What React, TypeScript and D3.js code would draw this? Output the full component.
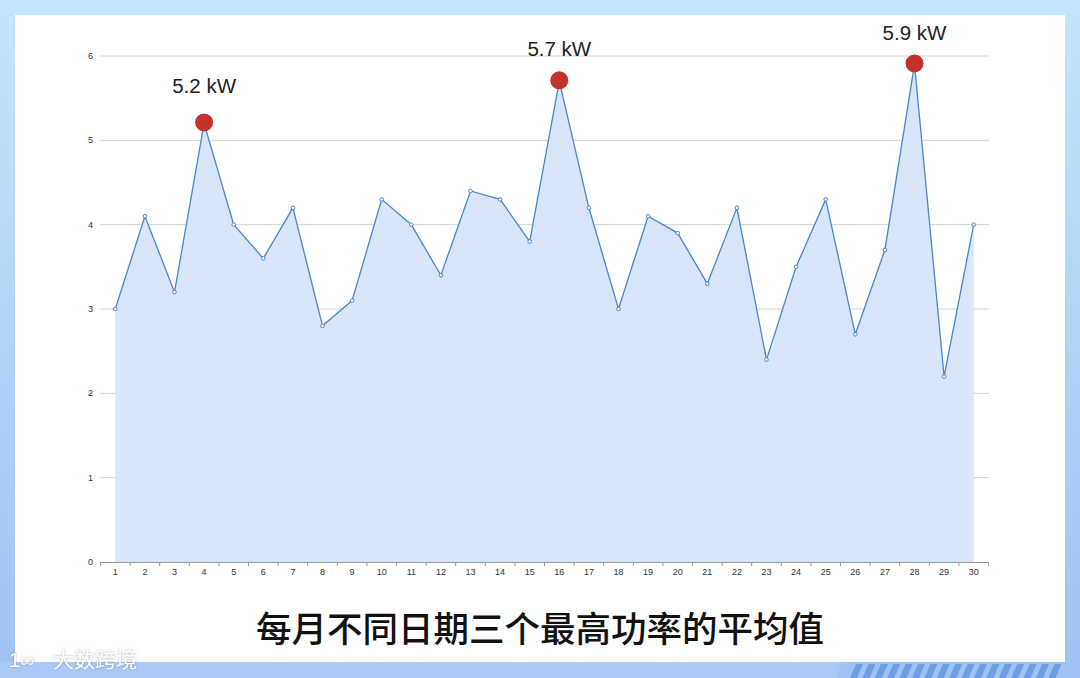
import React from "react";
import * as d3 from "d3";

const days: string[] = Array.from({ length: 30 }, (_, i) => String(i + 1));
const power: number[] = [
  3.0, 4.1, 3.2, 5.2, 4.0, 3.6, 4.2, 2.8, 3.1, 4.3,
  4.0, 3.4, 4.4, 4.3, 3.8, 5.7, 4.2, 3.0, 4.1, 3.9,
  3.3, 4.2, 2.4, 3.5, 4.3, 2.7, 3.7, 5.9, 2.2, 4.0,
];
const yTicks: number[] = [0, 1, 2, 3, 4, 5, 6];
const peakDays: string[] = ["4", "16", "28"];
const peakLabels: string[] = ["5.2 kW", "5.7 kW", "5.9 kW"];
const peakLabelGap: number[] = [30, 25, 24];
const title = "每月不同日期三个最高功率的平均值";
const watermark = "大数跨境";

const W = 1080;
const H = 678;

export default function App() {
  const x = d3.scaleBand<string>().domain(days).range([100.5, 988.5]);
  const y = d3.scaleLinear().domain([0, 6]).range([562, 56]);
  const cx = (d: string) => (x(d) as number) + x.bandwidth() / 2;

  const pts = days.map((d, i) => ({ d, v: power[i] }));
  const line = d3.line<{ d: string; v: number }>().x((p) => cx(p.d)).y((p) => y(p.v));
  const area = d3
    .area<{ d: string; v: number }>()
    .x((p) => cx(p.d))
    .y0(y(0))
    .y1((p) => y(p.v));

  const boundaries = days.map((d) => x(d) as number).concat([x.range()[1]]);

  const stripeStarts = d3.range(850, 1050, 12.4);

  const sans = "'Liberation Sans', Arial, sans-serif";

  return (
    <svg
      width={W}
      height={H}
      viewBox={`0 0 ${W} ${H}`}
      style={{ position: "absolute", left: 0, top: 0, display: "block" }}
    >
      <defs>
        <linearGradient id="bg" x1="0" y1="0" x2="0" y2="1">
          <stop offset="0" stopColor="#c3e6fb" />
          <stop offset="1" stopColor="#9ec2f4" />
        </linearGradient>
        <filter id="wmShadow" x="-10%" y="-30%" width="120%" height="160%">
          <feDropShadow dx="0" dy="0" stdDeviation="0.8" floodColor="#555" floodOpacity="0.55" />
        </filter>
      </defs>
      <rect x={0} y={0} width={W} height={H} fill="url(#bg)" />
      <path d={`M0,662 L842,662 L836,678 L0,678 Z`} fill="#a9c9f7" />
      {stripeStarts.map((s, i) => (
        <path
          key={i}
          d={`M${s + 6},664 L${s + 13},664 L${s + 7},678 L${s},678 Z`}
          fill="#6e9de2"
        />
      ))}
      <rect x={15} y={15} width={1050} height={647} fill="#ffffff" />

      {yTicks.map((t) => (
        <g key={t}>
          {t > 0 && (
            <line x1={100} x2={989} y1={y(t)} y2={y(t)} stroke="#d4d4d4" strokeWidth={1} />
          )}
          <text
            x={93}
            y={y(t)}
            dy="0.35em"
            textAnchor="end"
            fontSize={9}
            fill="#333"
            fontFamily={sans}
          >
            {t}
          </text>
        </g>
      ))}

      <path d={area(pts) || ""} fill="#d9e5f8" />
      <path d={line(pts) || ""} fill="none" stroke="#4a86cc" strokeWidth={1.3} />
      {pts.map((p) => (
        <circle key={p.d} cx={cx(p.d)} cy={y(p.v)} r={1.8} fill="#ffffff" stroke="#4a86cc" strokeWidth={1} />
      ))}

      <line x1={100} x2={989} y1={562.5} y2={562.5} stroke="#999" strokeWidth={1} />
      {boundaries.map((b, i) => (
        <line key={i} x1={b} x2={b} y1={562} y2={566} stroke="#999" strokeWidth={1} />
      ))}
      {days.map((d) => (
        <text
          key={d}
          x={cx(d)}
          y={575}
          textAnchor="middle"
          fontSize={9}
          fill="#333"
          fontFamily={sans}
        >
          {d}
        </text>
      ))}

      {peakDays.map((d, i) => {
        const v = power[days.indexOf(d)];
        return (
          <g key={d}>
            <circle cx={cx(d)} cy={y(v) - 1} r={9} fill="#c4312a" />
            <text
              x={cx(d)}
              y={y(v) - peakLabelGap[i]}
              textAnchor="middle"
              fontSize={20.5}
              fill="#222"
              fontFamily={sans}
            >
              {peakLabels[i]}
            </text>
          </g>
        );
      })}

      <text
        x={540}
        y={642}
        textAnchor="middle"
        fontSize={35.5}
        fontWeight={500}
        fill="#111"
        fontFamily="'Noto Sans CJK SC', sans-serif"
      >
        {title}
      </text>

      <g filter="url(#wmShadow)" fill="#ffffff" fillOpacity={0.92}>
        <text x={53} y={667} fontSize={21} fontFamily="'Noto Sans CJK SC', sans-serif">
          {watermark}
        </text>
        <text x={9} y={667} fontSize={20} fontFamily={sans}>
          1∞
        </text>
      </g>
    </svg>
  );
}
